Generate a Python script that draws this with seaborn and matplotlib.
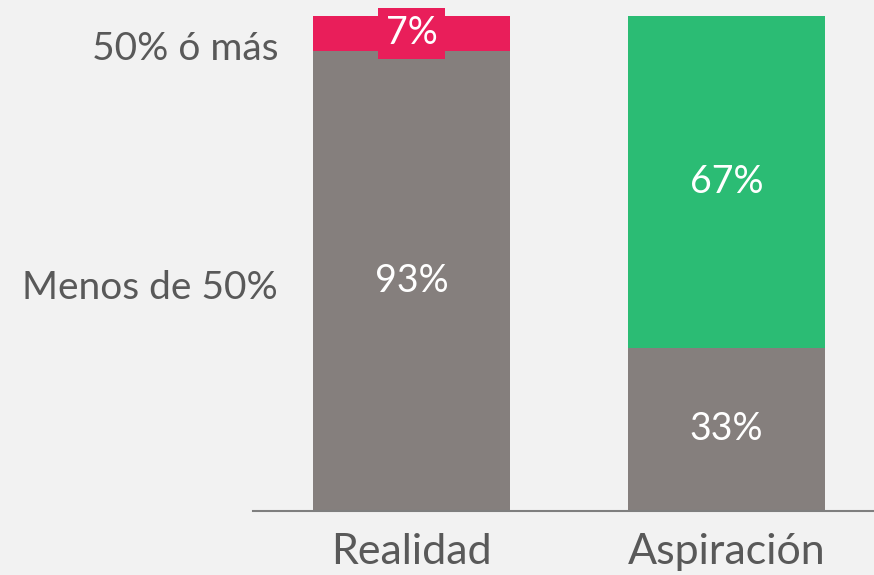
import pandas as pd
import seaborn as sns
import matplotlib.pyplot as plt

categories = ["Realidad", "Aspiración"]
menos_50 = [93, 33]
mas_50 = [7, 67]
row_labels = ["50% ó más", "Menos de 50%"]

COLOR_GRAY = "#857F7D"
COLOR_TOP = ["#E91E5A", "#2BBC74"]
TEXT_COLOR = "#595959"
BG = "#F2F2F2"

sns.set_style("white")
plt.rcParams["font.family"] = ["Lato", "DejaVu Sans"]

df = pd.DataFrame({
	"category": categories,
	"menos": menos_50,
	"mas": mas_50,
})
df["total"] = df["menos"] + df["mas"]

fig = plt.figure(figsize=(8.74, 5.75), dpi=100, facecolor=BG)
ax = fig.add_axes([0.2895, 0.1113, 0.7105, 0.8609])
ax.set_facecolor(BG)

# top segment drawn as full height, bottom segment over it
sns.barplot(data=df, x="category", y="total", hue="category",
	palette=dict(zip(categories, COLOR_TOP)), width=0.625,
	legend=False, ax=ax, saturation=1, dodge=False, linewidth=0)
sns.barplot(data=df, x="category", y="menos", color=COLOR_GRAY,
	width=0.625, ax=ax, saturation=1, linewidth=0)

ax.set_xlim(-0.503, 1.468)
ax.set_ylim(0, 100)

# value labels
for i, row in df.iterrows():
	ax.text(i, row["menos"] / 2, "{}%".format(row["menos"]), ha="center",
		va="center", color="white", fontsize=27)
	if row["mas"] < 10:
		ax.text(i, row["menos"] + row["mas"] / 2, "{}%".format(row["mas"]),
			ha="center", va="center", color="white", fontsize=27, clip_on=False,
			bbox=dict(boxstyle="square,pad=0.2", fc=COLOR_TOP[i], ec="none"))
	else:
		ax.text(i, row["menos"] + row["mas"] / 2, "{}%".format(row["mas"]),
			ha="center", va="center", color="white", fontsize=27)

ax.set_yticks([94.1, 45.7])
ax.set_yticklabels(row_labels)
ax.tick_params(axis="y", length=0, pad=-18, labelsize=28, labelcolor=TEXT_COLOR)
ax.tick_params(axis="x", length=0, pad=16, labelsize=31, labelcolor=TEXT_COLOR)

ax.set_xlabel("")
ax.set_ylabel("")

for s in ["top", "right", "left"]:
	ax.spines[s].set_visible(False)
ax.spines["bottom"].set_color("#7F7F7F")
ax.spines["bottom"].set_linewidth(1.5)

plt.savefig("out.png", dpi=100, facecolor=BG)
